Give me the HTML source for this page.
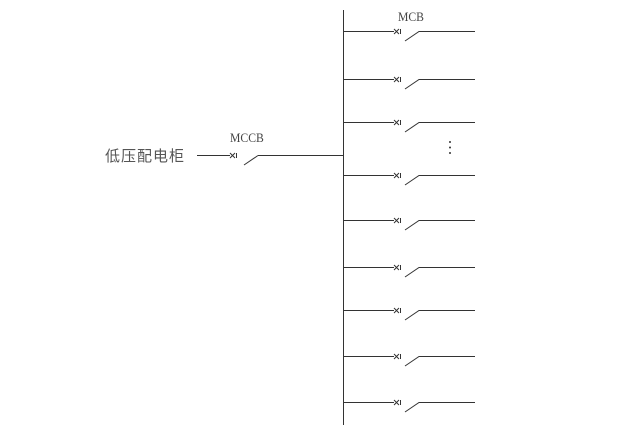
<!DOCTYPE html>
<html><head><style>body{margin:0;background:#fff}</style></head><body>
<svg width="640" height="425" xmlns="http://www.w3.org/2000/svg" font-family="Liberation Serif, serif">
<g stroke="#333" stroke-width="1" fill="none">
<line x1="343.5" y1="10" x2="343.5" y2="425"/>
<line x1="197" y1="155.5" x2="230" y2="155.5"/>
<line x1="230" y1="153" x2="235" y2="158"/><line x1="230" y1="158" x2="235" y2="153"/>
<line x1="236.5" y1="153" x2="236.5" y2="158"/>
<line x1="244" y1="165" x2="258" y2="155.5"/>
<line x1="258" y1="155.5" x2="343" y2="155.5"/>
</g>
<text x="230" y="142" font-size="13" fill="#444" transform="translate(230,0) scale(0.9,1) translate(-230,0)">MCCB</text>
<text x="398" y="21" font-size="13" fill="#444" transform="translate(398,0) scale(0.9,1) translate(-398,0)">MCB</text>
<text x="105" y="161" font-size="15" letter-spacing="1" fill="#555" font-family="Liberation Sans, 'Noto Sans CJK SC', sans-serif">低压配电柜</text>
<g fill="#333"><circle cx="450" cy="142" r="1"/><circle cx="450" cy="147.5" r="1"/><circle cx="450" cy="153" r="1"/></g>
<g stroke="#333" stroke-width="1" fill="none">
<g transform="translate(0,31)"><path d="M343 0.5H394M394 -2L399 3M394 3L399 -2M400.5 -2V3M405 10L419 0.5H475"/></g>
<g transform="translate(0,79)"><path d="M343 0.5H394M394 -2L399 3M394 3L399 -2M400.5 -2V3M405 10L419 0.5H475"/></g>
<g transform="translate(0,122)"><path d="M343 0.5H394M394 -2L399 3M394 3L399 -2M400.5 -2V3M405 10L419 0.5H475"/></g>
<g transform="translate(0,175)"><path d="M343 0.5H394M394 -2L399 3M394 3L399 -2M400.5 -2V3M405 10L419 0.5H475"/></g>
<g transform="translate(0,220)"><path d="M343 0.5H394M394 -2L399 3M394 3L399 -2M400.5 -2V3M405 10L419 0.5H475"/></g>
<g transform="translate(0,267)"><path d="M343 0.5H394M394 -2L399 3M394 3L399 -2M400.5 -2V3M405 10L419 0.5H475"/></g>
<g transform="translate(0,310)"><path d="M343 0.5H394M394 -2L399 3M394 3L399 -2M400.5 -2V3M405 10L419 0.5H475"/></g>
<g transform="translate(0,356)"><path d="M343 0.5H394M394 -2L399 3M394 3L399 -2M400.5 -2V3M405 10L419 0.5H475"/></g>
<g transform="translate(0,402)"><path d="M343 0.5H394M394 -2L399 3M394 3L399 -2M400.5 -2V3M405 10L419 0.5H475"/></g>
</g>
</svg>
</body></html>
